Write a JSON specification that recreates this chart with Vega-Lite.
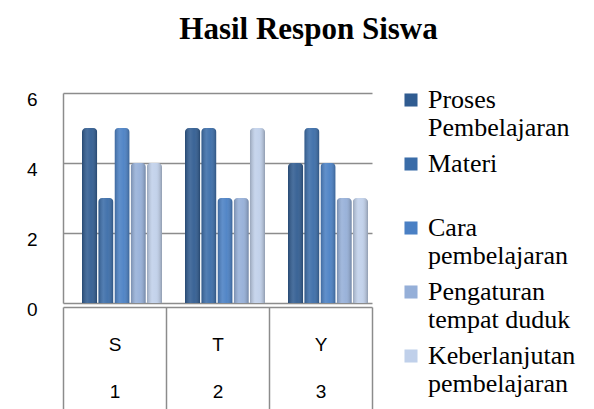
{
  "$schema": "https://vega.github.io/schema/vega-lite/v6.json",
  "width": 309,
  "height": 210,
  "autosize": {"type": "none"},
  "padding": {"left": 63, "top": 93, "right": 222, "bottom": 106},
  "background": "white",
  "title": {
    "text": "Hasil Respon Siswa",
    "font": "Liberation Serif",
    "fontSize": 31,
    "fontWeight": "bold",
    "color": "#000000",
    "anchor": "middle",
    "frame": "group",
    "dx": 91,
    "baseline": "alphabetic",
    "offset": 17
  },
  "data": {
    "values": [
      {"kategori": "S|1", "seri": "Proses Pembelajaran", "nilai": 5},
      {"kategori": "S|1", "seri": "Materi", "nilai": 3},
      {"kategori": "S|1", "seri": "Cara pembelajaran", "nilai": 5},
      {"kategori": "S|1", "seri": "Pengaturan tempat duduk", "nilai": 4},
      {"kategori": "S|1", "seri": "Keberlanjutan pembelajaran", "nilai": 4},
      {"kategori": "T|2", "seri": "Proses Pembelajaran", "nilai": 5},
      {"kategori": "T|2", "seri": "Materi", "nilai": 5},
      {"kategori": "T|2", "seri": "Cara pembelajaran", "nilai": 3},
      {"kategori": "T|2", "seri": "Pengaturan tempat duduk", "nilai": 3},
      {"kategori": "T|2", "seri": "Keberlanjutan pembelajaran", "nilai": 5},
      {"kategori": "Y|3", "seri": "Proses Pembelajaran", "nilai": 4},
      {"kategori": "Y|3", "seri": "Materi", "nilai": 5},
      {"kategori": "Y|3", "seri": "Cara pembelajaran", "nilai": 4},
      {"kategori": "Y|3", "seri": "Pengaturan tempat duduk", "nilai": 3},
      {"kategori": "Y|3", "seri": "Keberlanjutan pembelajaran", "nilai": 3}
    ]
  },
  "encoding": {
    "x": {
      "field": "kategori",
      "type": "nominal",
      "sort": null,
      "scale": {"paddingInner": 0, "paddingOuter": 0},
      "axis": {
        "title": null,
        "orient": "bottom",
        "offset": 4,
        "domainColor": "#8c8c8c",
        "domainWidth": 1.5,
        "tickBand": "extent",
        "tickSize": 110,
        "tickColor": "#8c8c8c",
        "tickWidth": 1.5,
        "labelAngle": 0,
        "labelFont": "Liberation Sans",
        "labelFontSize": 19,
        "labelColor": "#000000",
        "labelLineHeight": 47,
        "labelBaseline": "middle",
        "labelPadding": -73,
        "labelExpr": "split(datum.label, '|')"
      }
    },
    "xOffset": {
      "field": "seri",
      "type": "nominal",
      "sort": null,
      "scale": {"paddingInner": 0.06, "range": [19, 99]}
    },
    "y": {
      "field": "nilai",
      "type": "quantitative",
      "scale": {"domain": [0, 6]},
      "axis": {
        "title": null,
        "values": [0, 2, 4, 6],
        "domainColor": "#8c8c8c",
        "domainWidth": 1.5,
        "ticks": false,
        "labelPadding": 26,
        "labelOffset": 6,
        "labelFont": "Liberation Sans",
        "labelFontSize": 19,
        "labelColor": "#000000",
        "grid": true,
        "gridColor": "#8c8c8c",
        "gridWidth": 1.5
      }
    }
  },
  "layer": [
    {
      "mark": {"type": "bar", "cornerRadiusTopLeft": 4, "cornerRadiusTopRight": 4},
      "encoding": {
        "color": {
          "field": "seri",
          "type": "nominal",
          "sort": null,
          "scale": {
            "domain": ["Proses Pembelajaran", "Materi", "Cara pembelajaran", "Pengaturan tempat duduk", "Keberlanjutan pembelajaran"],
            "range": ["#305C91", "#3A6CA8", "#4A80C4", "#95AFD8", "#C0D0EA"]
          },
          "legend": {
            "title": null,
            "orient": "none",
            "legendX": 335,
            "legendY": -6,
            "symbolType": "square",
            "symbolSize": 170,
            "symbolStrokeWidth": 0,
            "symbolOpacity": 1,
            "labelFont": "Liberation Serif",
            "labelFontSize": 26,
            "labelLineHeight": 31,
            "labelColor": "#000000",
            "labelBaseline": "middle",
            "labelOffset": 4,
            "labelLimit": 300,
            "rowPadding": 10,
            "labelExpr": "datum.label == 'Proses Pembelajaran' ? [' Proses', 'Pembelajaran'] : datum.label == 'Materi' ? ['Materi', ''] : datum.label == 'Cara pembelajaran' ? ['Cara', 'pembelajaran'] : datum.label == 'Pengaturan tempat duduk' ? ['Pengaturan', 'tempat duduk'] : ['Keberlanjutan', 'pembelajaran']"
          }
        }
      }
    },
    {
      "mark": {
        "type": "bar",
        "cornerRadiusTopLeft": 4,
        "cornerRadiusTopRight": 4,
        "fill": {
          "gradient": "linear",
          "x1": 0, "y1": 0, "x2": 1, "y2": 0,
          "stops": [
            {"offset": 0, "color": "rgba(0,0,0,0.22)"},
            {"offset": 0.35, "color": "rgba(255,255,255,0.12)"},
            {"offset": 0.6, "color": "rgba(255,255,255,0.05)"},
            {"offset": 1, "color": "rgba(0,0,0,0.25)"}
          ]
        }
      },
      "encoding": {}
    }
  ],
  "config": {"view": {"stroke": null}}
}
